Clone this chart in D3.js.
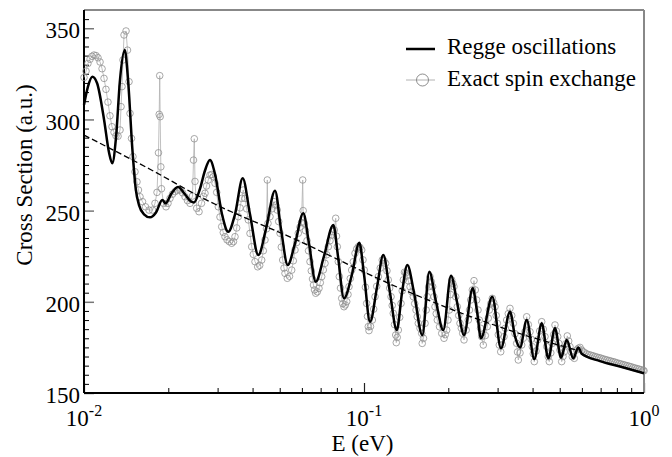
<!DOCTYPE html>
<html>
<head>
<meta charset="utf-8">
<script src="https://cdn.jsdelivr.net/npm/d3@7"></script>
<style>
  body { margin: 0; background: #fff; }
  text { font-family: "Liberation Serif", "Times New Roman", serif; }
</style>
</head>
<body>
<div id="chart"></div>
<script>
// Regge oscillations (solid black curve)
const reggeE = [
  0.01000, 0.01033, 0.01071, 0.01113, 0.01179, 0.01228, 0.01262, 0.01301, 0.01345, 0.01398,
  0.01436, 0.01488, 0.01530, 0.01572, 0.01638, 0.01721, 0.01808, 0.01904, 0.01958, 0.02045,
  0.02166, 0.02294, 0.02411, 0.02471, 0.02596, 0.02705, 0.02818, 0.02937, 0.03111, 0.03276,
  0.03462, 0.03688, 0.03916, 0.04194, 0.04467, 0.04810, 0.05053, 0.05340, 0.05670, 0.06070,
  0.06362, 0.06723, 0.07197, 0.07769, 0.08074, 0.08483, 0.09059, 0.09621, 0.1000, 0.1051,
  0.1113, 0.1172, 0.1238, 0.1309, 0.1367, 0.1428, 0.1509, 0.1615, 0.1711, 0.1808,
  0.1919, 0.2045, 0.2148, 0.2276, 0.2444, 0.2532, 0.2617, 0.2872, 0.3085, 0.3322,
  0.3462, 0.3607, 0.3812, 0.4057, 0.4312, 0.4552, 0.4810, 0.5053, 0.5296, 0.5591,
  0.5826, 0.5991, 0.6966, 0.8209, 1.0000
];
const reggeSigma = [
  308, 318, 323.4, 320, 300, 282, 276, 290, 322, 338,
  322, 284, 262, 253, 248, 246.3, 249, 255.8, 254, 259,
  263, 259, 255, 254.5, 262, 272, 277.7, 270, 248, 238.4,
  248, 267.7, 248, 225.7, 240, 260.9, 240, 220.2, 232, 248.5,
  232, 211, 225, 242.1, 225, 201.9, 215, 232.4, 215, 189.1,
  208, 225.7, 205, 184.5, 205, 220.2, 205, 181.8, 216.5, 200,
  184.5, 214.3, 200, 181.8, 207.4, 195, 180, 202.8, 174.5, 194.6,
  181, 175, 190, 168.6, 188.2, 169, 185.5, 169.4, 179, 169,
  175, 171.5, 167.5, 164.5, 160.8
];

// Exact spin exchange (grey circles)
const exactE = [
  0.01000, 0.01017, 0.01033, 0.01051, 0.01068, 0.01086, 0.01104, 0.01122, 0.01141, 0.01160,
  0.01179, 0.01198, 0.01218, 0.01238, 0.01259, 0.01280, 0.01301, 0.01323, 0.01345, 0.01356,
  0.01367, 0.01378, 0.01390, 0.01413, 0.01430, 0.01448, 0.01460, 0.01478, 0.01496, 0.01521,
  0.01546, 0.01565, 0.01585, 0.01618, 0.01658, 0.01707, 0.01757, 0.01793, 0.01823, 0.01845,
  0.01856, 0.01864, 0.01871, 0.01881, 0.01891, 0.01923, 0.01963, 0.01995, 0.02028, 0.02070,
  0.02114, 0.02157, 0.02202, 0.02248, 0.02295, 0.02342, 0.02391, 0.02441, 0.02461, 0.02477,
  0.02491, 0.02526, 0.02575, 0.02628, 0.02672, 0.02705, 0.02738, 0.02779, 0.02818, 0.02858,
  0.02896, 0.02937, 0.02978, 0.03018, 0.03060, 0.03103, 0.03144, 0.03188, 0.03241, 0.03303,
  0.03369, 0.03419, 0.03462, 0.03510, 0.03557, 0.03607, 0.03658, 0.03706, 0.03758, 0.03811,
  0.03862, 0.03916, 0.03971, 0.04024, 0.04081, 0.04172, 0.04241, 0.04312, 0.04369, 0.04430,
  0.04485, 0.04515, 0.04541, 0.04616, 0.04693, 0.04771, 0.04838, 0.04902, 0.04959, 0.05012,
  0.05066, 0.05124, 0.05180, 0.05222, 0.05322, 0.05419, 0.05518, 0.05591, 0.05670, 0.05750,
  0.05826, 0.05908, 0.05981, 0.06041, 0.06065, 0.06121, 0.06181, 0.06258, 0.06336, 0.06414,
  0.06483, 0.06547, 0.06601, 0.06656, 0.06722, 0.06811, 0.06907, 0.06981, 0.07062, 0.07155,
  0.07256, 0.07358, 0.07456, 0.07561, 0.07667, 0.07750, 0.07833, 0.07924, 0.07976, 0.08029,
  0.08095, 0.08162, 0.08243, 0.08325, 0.08400, 0.08483, 0.08575, 0.08674, 0.08767, 0.08839,
  0.08934, 0.09038, 0.09158, 0.09287, 0.09417, 0.09542, 0.09676, 0.09813, 0.09918, 0.1002,
  0.1012, 0.1022, 0.1029, 0.1036, 0.1042, 0.1055, 0.1071, 0.1083, 0.1095, 0.1110,
  0.1125, 0.1143, 0.1162, 0.1179, 0.1195, 0.1208, 0.1221, 0.1235, 0.1249, 0.1261,
  0.1272, 0.1285, 0.1298, 0.1304, 0.1314, 0.1326, 0.1341, 0.1356, 0.1369, 0.1382,
  0.1395, 0.1410, 0.1424, 0.1440, 0.1460, 0.1480, 0.1500, 0.1517, 0.1534, 0.1549,
  0.1563, 0.1585, 0.1607, 0.1614, 0.1631, 0.1652, 0.1668, 0.1683, 0.1703, 0.1721,
  0.1739, 0.1759, 0.1777, 0.1793, 0.1811, 0.1827, 0.1861, 0.1895, 0.1931, 0.1951,
  0.1974, 0.1995, 0.2017, 0.2037, 0.2057, 0.2077, 0.2096, 0.2126, 0.2154, 0.2179,
  0.2202, 0.2226, 0.2252, 0.2276, 0.2317, 0.2358, 0.2381, 0.2405, 0.2437, 0.2471,
  0.2497, 0.2526, 0.2554, 0.2581, 0.2607, 0.2632, 0.2667, 0.2712, 0.2757, 0.2779,
  0.2802, 0.2837, 0.2872, 0.2905, 0.2937, 0.2966, 0.2993, 0.3018, 0.3042, 0.3078,
  0.3118, 0.3162, 0.3196, 0.3233, 0.3276, 0.3322, 0.3369, 0.3414, 0.3462, 0.3510,
  0.3534, 0.3557, 0.3607, 0.3658, 0.3706, 0.3758, 0.3811, 0.3862, 0.3916, 0.3955,
  0.3991, 0.4024, 0.4057, 0.4114, 0.4172, 0.4241, 0.4312, 0.4369, 0.4430, 0.4493,
  0.4552, 0.4590, 0.4647, 0.4704, 0.4759, 0.4810, 0.4862, 0.4918, 0.4963, 0.5012,
  0.5082, 0.5137, 0.5192, 0.5257, 0.5322, 0.5384, 0.5441, 0.5496, 0.5545, 0.5637,
  0.5750, 0.5826, 0.5908, 0.5991, 0.6070, 0.6156, 0.6258, 0.6362, 0.6467, 0.6574,
  0.6683, 0.6794, 0.6907, 0.7021, 0.7138, 0.7256, 0.7377, 0.7499, 0.7623, 0.7750,
  0.7878, 0.8009, 0.8142, 0.8277, 0.8414, 0.8553, 0.8695, 0.8839, 0.8986, 0.9135,
  0.9287, 0.9441, 0.9597, 0.9756, 0.9918, 1.000
];
const exactSigma = [
  323, 326.5, 330.7, 333, 334.6, 335.3, 335, 333.8, 331.5, 327.8,
  322.5, 316.5, 309.5, 302, 296, 293, 291, 290.8, 294.2, 307,
  318, 332.6, 346.3, 348.5, 338, 320.7, 303.3, 289.6, 279.6, 271.3,
  265.8, 261.3, 257.6, 254.9, 252.1, 250.3, 250.3, 254, 260, 281.7,
  302.8, 324, 301.5, 274, 262, 254, 252.1, 254, 256.7, 259,
  260.4, 261.2, 261.3, 259.8, 257.6, 255.5, 254, 258, 277.7, 289.4,
  266, 251.3, 249.4, 254, 257.8, 259.5, 263.5, 266.8, 269.5, 269.8,
  268.6, 265, 260, 252.1, 246.5, 241.2, 238, 235.7, 234, 233,
  232.1, 233, 235.7, 240.5, 246.7, 251.5, 256.7, 261.3, 256.7, 251,
  244.9, 237.5, 230.2, 226, 222, 219.2, 220, 222.9, 228, 233.9,
  240, 266.8, 243, 246.7, 251, 254.9, 253, 250.3, 244, 237.6,
  230, 222.9, 218.5, 215.6, 212.9, 214, 217.4, 222.5, 228.4, 232.5,
  237.6, 241, 243.5, 266.8, 250, 243, 239, 233.5, 228, 222,
  217, 212.5, 209.2, 206.5, 204.7, 205.5, 207.4, 210.5, 213.8, 217.5,
  221.1, 225.8, 230.2, 233.5, 236.6, 238.5, 239.4, 245.8, 236, 230.2,
  222, 213.8, 207.5, 201.9, 199, 197.3, 198.3, 200.1, 204, 208.3,
  212.8, 217.4, 222, 226.6, 229, 230.2, 229.8, 228.4, 223, 217.4,
  208, 199.1, 192, 186.4, 184.2, 186.5, 190, 196, 202.8, 208.5,
  213.8, 218.5, 222.9, 222.5, 221.1, 217, 212, 207.5, 202.8, 198,
  193.7, 187.5, 181.8, 177.6, 180.5, 184.5, 191.5, 199.1, 206, 212,
  216.2, 215.8, 214.2, 211.5, 208.3, 205.5, 202.8, 199, 195.5, 191.8,
  188.2, 185.5, 182.7, 177.2, 180, 188.2, 195.5, 202.8, 208.3, 213.8,
  211, 208.3, 202.8, 197.3, 193.5, 190, 186.3, 182.7, 180, 182,
  184.5, 190, 195.5, 204, 212, 210, 208.3, 202.8, 197.3, 192.5,
  188.2, 185.5, 182.7, 179.1, 184.5, 190, 195.5, 201, 206.5, 211.6,
  206.5, 201, 195.5, 190, 185.5, 180.9, 176.3, 181.5, 186.4, 191,
  195.5, 199, 201.9, 199.5, 197.3, 192.5, 188.2, 182, 176.3, 172.6,
  176.5, 180.9, 185.5, 190, 193.5, 196.4, 192.5, 188.2, 182.5, 177.2,
  172.5, 168.1, 172, 176.3, 180, 183.6, 191.8, 187.5, 183.6, 179.5,
  175.4, 171.5, 167.2, 173, 179.1, 184, 189.1, 185, 180.9, 175.5,
  169.9, 167.2, 172, 177.2, 182, 187.3, 184, 180.9, 177.2, 173.6,
  167.2, 170, 172.6, 177, 181.3, 178.5, 175.4, 172.5, 169.9, 169,
  173.6, 174.5, 175, 173.5, 172.6, 172, 171.4, 171.0, 170.7, 170.4,
  170.0, 169.7, 169.4, 169.1, 168.7, 168.4, 168.1, 167.8, 167.5, 167.2,
  166.9, 166.5, 166.2, 165.9, 165.6, 165.3, 165.0, 164.7, 164.4, 164.0,
  163.7, 163.4, 163.1, 162.8, 162.4, 162.2
];

// dashed background trend
const trendE = [0.01, 0.01721, 0.02667, 0.05750, 0.1345, 0.3548, 0.5670];
const trendSigma = [291.4, 272.7, 256.7, 233.9, 207.4, 182.9, 173.8];

// axes
const yMajorTicks = [150, 200, 250, 300, 350];
const xMajorTicks = [0.01, 0.1, 1];
const xTickExponents = ["-2", "-1", "0"];
const xMinorTicks = [0.02, 0.03, 0.04, 0.05, 0.06, 0.07, 0.08, 0.09, 0.2, 0.3, 0.4, 0.5, 0.6, 0.7, 0.8, 0.9];

const legendLabels = ["Regge oscillations", "Exact spin exchange"];

const margin = {top: 10, right: 28, bottom: 64, left: 84};
const width = 672 - margin.left - margin.right;
const height = 457 - margin.top - margin.bottom;

const svg = d3.select("#chart").append("svg")
    .attr("width", 672)
    .attr("height", 457);

const g = svg.append("g")
    .attr("transform", `translate(${margin.left},${margin.top})`);

const x = d3.scaleLog().domain([0.01, 1]).range([0, width]);
const y = d3.scaleLinear().domain([150, 360]).range([height, 0]);

// minor ticks point inward
g.append("g")
    .attr("transform", `translate(0,${height})`)
    .call(d3.axisBottom(x).tickValues(xMinorTicks).tickSize(-5).tickFormat(""))
    .call(a => a.select(".domain").remove())
    .selectAll("line").attr("stroke", "#000").attr("stroke-width", 1);

g.append("g")
    .attr("transform", `translate(0,${height})`)
    .call(d3.axisBottom(x).tickValues(xMajorTicks).tickSize(-10).tickFormat(""))
    .call(a => a.select(".domain").remove())
    .selectAll("line").attr("stroke", "#222").attr("stroke-width", 1.2);

const yMinor = d3.range(155, 360, 5).filter(v => v % 50 !== 0);
g.append("g")
    .call(d3.axisLeft(y).tickValues(yMinor).tickSize(-5).tickFormat(""))
    .call(a => a.select(".domain").remove())
    .selectAll("line").attr("stroke", "#000").attr("stroke-width", 1);

const yAxis = g.append("g")
    .call(d3.axisLeft(y).tickValues(yMajorTicks).tickSize(-10).tickPadding(4).tickSizeOuter(0))
    .call(a => a.select(".domain").remove());
yAxis.selectAll("line").attr("stroke", "#777").attr("stroke-width", 1.5);
yAxis.selectAll("text")
    .attr("dy", "0.42em")
    .style("font-size", "23px")
    .style("font-family", "'Liberation Serif', serif")
    .attr("fill", "#000");

// x tick labels as 10^n
xMajorTicks.forEach((v, i) => {
    const t = g.append("text")
        .attr("x", x(v))
        .attr("y", height + 33)
        .attr("text-anchor", "middle")
        .style("font-size", "23px");
    t.append("tspan").text("10");
    t.append("tspan").attr("dy", -10).style("font-size", "16px").text(xTickExponents[i]);
});

// frame: black left/bottom, grey top/right
g.append("line").attr("x1", 0).attr("x2", width).attr("y1", 0).attr("y2", 0)
    .attr("stroke", "#888").attr("stroke-width", 2);
g.append("line").attr("x1", width).attr("x2", width).attr("y1", 0).attr("y2", height)
    .attr("stroke", "#888").attr("stroke-width", 2);
g.append("line").attr("x1", 0).attr("x2", 0).attr("y1", 0).attr("y2", height)
    .attr("stroke", "#000").attr("stroke-width", 2);
g.append("line").attr("x1", 0).attr("x2", width).attr("y1", height).attr("y2", height)
    .attr("stroke", "#000").attr("stroke-width", 2);

// exact spin exchange: thin line + open circles
const exactData = d3.zip(exactE, exactSigma);
const linearLine = d3.line().x(d => x(d[0])).y(d => y(d[1]));

g.append("path")
    .datum(exactData)
    .attr("d", linearLine)
    .attr("fill", "none")
    .attr("stroke", "#b0b0b0")
    .attr("stroke-width", 0.8);

g.selectAll(".exact-pt")
    .data(exactData)
    .enter()
    .append("circle")
    .attr("class", "exact-pt")
    .attr("cx", d => x(d[0]))
    .attr("cy", d => y(d[1]))
    .attr("r", 3.3)
    .attr("fill", "none")
    .attr("stroke", "#909090")
    .attr("stroke-width", 0.8);

// dashed trend
const smoothLine = d3.line().x(d => x(d[0])).y(d => y(d[1])).curve(d3.curveMonotoneX);
g.append("path")
    .datum(d3.zip(trendE, trendSigma))
    .attr("d", smoothLine)
    .attr("fill", "none")
    .attr("stroke", "#000")
    .attr("stroke-width", 1.3)
    .attr("stroke-dasharray", "6,3");

// Regge curve
g.append("path")
    .datum(d3.zip(reggeE, reggeSigma))
    .attr("d", smoothLine)
    .attr("fill", "none")
    .attr("stroke", "#000")
    .attr("stroke-width", 2.5)
    .attr("stroke-linejoin", "round");

// legend
const legend = g.append("g").attr("transform", "translate(322,0)");
legend.append("line").attr("x1", 0).attr("x2", 29).attr("y1", 39).attr("y2", 39)
    .attr("stroke", "#000").attr("stroke-width", 2.5);
legend.append("line").attr("x1", 0).attr("x2", 29).attr("y1", 70).attr("y2", 70)
    .attr("stroke", "#a0a0a0").attr("stroke-width", 0.8);
legend.append("circle").attr("cx", 16.5).attr("cy", 70).attr("r", 6)
    .attr("fill", "none").attr("stroke", "#808080").attr("stroke-width", 0.9);
legend.selectAll(".leg-label")
    .data(legendLabels)
    .enter()
    .append("text")
    .attr("class", "leg-label")
    .attr("x", 41)
    .attr("y", (d, i) => 44 + i * 32)
    .style("font-size", "23px")
    .text(d => d);

// axis titles
svg.append("text")
    .attr("transform", "translate(32,175) rotate(-90)")
    .attr("text-anchor", "middle")
    .style("font-size", "23px")
    .text("Cross Section (a.u.)");

svg.append("text")
    .attr("x", 362.5)
    .attr("y", 451)
    .attr("text-anchor", "middle")
    .style("font-size", "23px")
    .text("E (eV)");
</script>
</body>
</html>
